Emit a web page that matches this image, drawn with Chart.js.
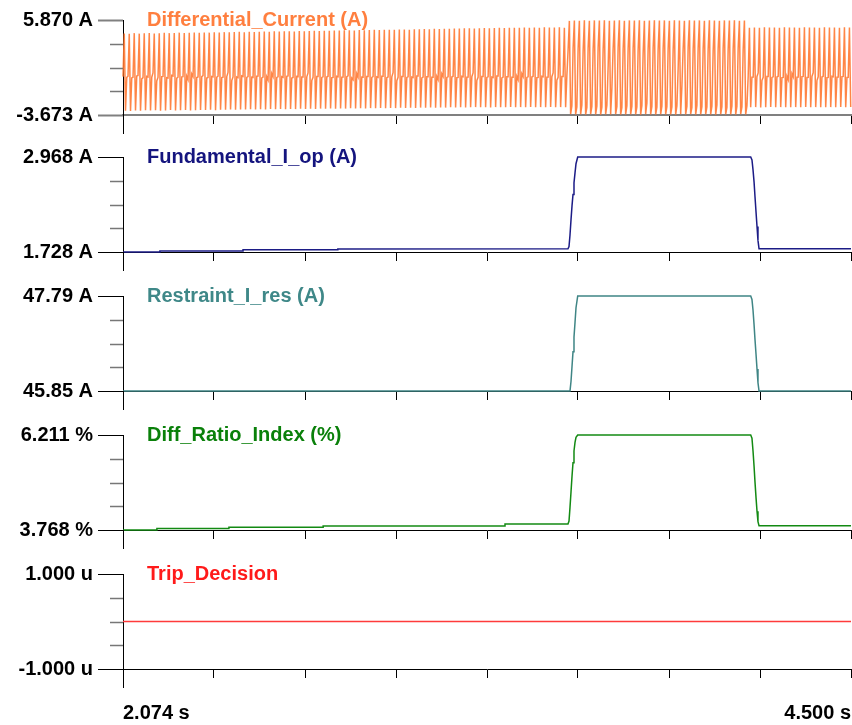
<!DOCTYPE html>
<html>
<head>
<meta charset="utf-8">
<script src="https://cdn.jsdelivr.net/npm/chart.js@4.4.1/dist/chart.umd.min.js"></script>
<style>
  html, body { margin: 0; padding: 0; background: #fff; }
  body { width: 852px; height: 725px; position: relative; overflow: hidden; }
  canvas { position: absolute; left: 0; }
</style>
</head>
<body>
<canvas id="p1" width="852" height="138" style="top:0px"></canvas>
<canvas id="p2" width="852" height="138" style="top:137px"></canvas>
<canvas id="p3" width="852" height="138" style="top:276px"></canvas>
<canvas id="p4" width="852" height="138" style="top:415px"></canvas>
<canvas id="p5" width="852" height="171" style="top:554px"></canvas>
<script>
// ---------------- DATA ----------------
const seriesNames = ["Differential_Current (A)", "Fundamental_I_op (A)", "Restraint_I_res (A)", "Diff_Ratio_Index (%)", "Trip_Decision"];
const timeStart = 2.074;            // s
const timeEnd = 4.500;              // s
const sampleRate = 240;             // samples per second of the differential current record
const xTickValues = [2.074, 2.377, 2.681, 2.984, 3.287, 3.590, 3.894, 4.197, 4.500];
const xTickLabels = ["2.074 s", "4.500 s"];

const diffRange = [-3.673, 5.870];
const iopRange = [1.728, 2.968];
const iresRange = [45.85, 47.79];
const ratioRange = [3.768, 6.211];
const tripRange = [-0.000001, 0.000001];

const diffTickLabels = ["-3.673 A", "5.870 A"];
const iopTickLabels = ["1.728 A", "2.968 A"];
const iresTickLabels = ["45.85 A", "47.79 A"];
const ratioTickLabels = ["3.768 %", "6.211 %"];
const tripTickLabels = ["-1.000 u", "1.000 u"];

// Differential current samples (A)
const diffCurrent = [
0.18,4.52,-3.24,0.10, 0.22,4.49,-3.26,0.05, 0.12,4.55,-3.21,0.25, 0.30,4.50,-3.25,-0.05, 0.08,4.53,-3.20,0.20,
0.15,4.56,-3.23,0.12, 0.55,4.51,-3.19,-0.25, 0.10,4.54,-3.24,0.18, 0.20,4.58,-3.22,0.08, 0.05,4.55,-3.18,0.30,
0.25,4.57,-3.21,0.02, 0.12,4.60,-3.20,0.16, 0.18,4.56,-3.17,0.22, -0.10,4.59,-3.22,0.45, 0.20,4.61,-3.19,0.10,
0.14,4.58,-3.16,0.18, 0.28,4.62,-3.18,0.04, 0.10,4.60,-3.15,0.20, 0.16,4.63,-3.19,0.12, 0.22,4.61,-3.14,0.08,
0.12,4.65,-3.15,0.18, 0.60,4.63,-3.12,-0.20, 0.15,4.66,-3.14,0.14, 0.08,4.68,-3.11,0.25, 0.20,4.64,-3.13,0.10,
0.18,4.69,-3.10,0.12, 0.10,4.67,-3.12,0.22, 0.24,4.70,-3.09,0.06, 0.14,4.72,-3.11,0.16, -0.15,4.69,-3.08,0.50,
0.20,4.73,-3.10,0.10, 0.16,4.71,-3.07,0.18, 0.12,4.74,-3.09,0.22, 0.26,4.75,-3.06,0.04, 0.10,4.72,-3.08,0.20,
0.18,4.76,-3.05,0.14, 0.14,4.74,-3.07,0.16, 0.55,4.77,-3.04,-0.20, 0.12,4.78,-3.06,0.20, 0.20,4.76,-3.03,0.10,
0.16,4.80,-3.05,0.14, 0.22,4.79,-3.02,0.08, 0.10,4.82,-3.04,0.22, 0.18,4.81,-3.01,0.12, 0.14,4.83,-3.03,0.18,
0.26,4.85,-3.00,0.04, -0.12,4.82,-3.02,0.48, 0.16,4.86,-2.99,0.14, 0.12,4.84,-3.01,0.20, 0.20,4.87,-2.98,0.10,
0.18,4.88,-3.00,0.16, 0.10,4.86,-2.97,0.22, 0.22,4.89,-2.99,0.08, 0.14,4.90,-2.96,0.16, 0.58,4.88,-2.98,-0.22,
0.12,4.91,-2.95,0.20, 0.20,4.92,-2.97,0.10, 0.16,4.90,-2.94,0.14, 0.10,4.93,-2.96,0.24, 0.24,4.94,-2.93,0.06,
0.14,4.96,-2.95,0.18, 0.18,4.95,-2.92,0.12, 0.12,4.98,-2.94,0.20, -0.10,4.97,-2.91,0.46, 0.20,4.99,-2.93,0.10,
0.16,5.00,-2.90,0.14, 0.22,5.02,-2.92,0.08, 0.10,5.01,-2.89,0.22, 0.18,5.03,-2.91,0.12, 0.14,5.04,-2.90,0.18,
0.56,5.02,-2.88,-0.20, 0.12,5.05,-2.90,0.20, 0.20,5.06,-2.89,0.10, 0.16,5.04,-2.91,0.14, 0.10,5.07,-2.88,0.24,
0.24,5.08,-2.90,0.06, 0.14,5.06,-2.89,0.18, 0.18,5.09,-2.87,0.12, 0.12,5.10,-2.90,0.20, -0.12,5.08,-2.88,0.48,
0.20,5.11,-2.89,0.10, 0.16,5.09,-2.87,0.14, 0.22,5.12,-2.90,0.08, 0.10,5.10,-2.88,0.22, 0.18,5.13,-2.89,0.12,
0.14,5.11,-2.87,0.18, 0.55,5.12,-2.90,-0.18, 0.12,5.13,-2.88,0.20, 0.20,5.10,-2.89,0.30,
2.90,5.78,-3.58,-2.75, 3.10,5.82,-3.62,-2.85, 3.00,5.80,-3.60,-2.70, 2.80,5.84,-3.63,-2.90, 3.05,5.79,-3.59,-2.80,
2.95,5.83,-3.61,-2.78, 3.10,5.81,-3.64,-2.88, 2.90,5.85,-3.60,-2.72, 1.20,5.80,-3.62,-1.00, 3.00,5.82,-3.59,-2.84,
3.10,5.84,-3.63,-2.90, 2.95,5.79,-3.61,-2.76, 3.00,5.83,-3.60,-2.80, 3.05,5.81,-3.62,-2.86, 2.90,5.85,-3.64,-2.74,
2.60,5.80,-3.59,-2.50, 3.00,5.82,-3.61,-2.82, 3.10,5.84,-3.63,-2.88, 2.95,5.81,-3.60,-2.78, 3.05,5.83,-3.62,-2.84,
3.00,5.79,-3.61,-2.86, 2.90,5.85,-3.64,-2.76, 1.00,5.82,-3.60,-0.80, 3.00,5.80,-3.62,-2.82, 3.10,5.84,-3.59,-2.90,
2.95,5.81,-3.63,-2.74, 3.05,5.83,-3.61,-2.84, 3.00,5.80,-3.60,-2.86, 2.95,5.84,-3.62,-2.80, 2.80,5.82,-3.64,-2.70,
3.00,5.79,-3.60,-2.84, 3.10,5.83,-3.62,-2.90, 2.95,5.81,-3.61,-2.78, 3.00,5.85,-3.63,-2.82, 3.05,5.80,-3.59,-2.86, 2.90,5.82,-3.62,-2.76,
0.20,5.10,-2.90,0.12, 0.14,5.12,-2.88,0.18, 0.55,5.09,-2.91,-0.20, 0.12,5.13,-2.89,0.20, 0.20,5.11,-2.87,0.10,
0.16,5.12,-2.90,0.14, 0.22,5.10,-2.88,0.08, 0.10,5.13,-2.89,0.22, -0.12,5.11,-2.90,0.48, 0.18,5.12,-2.88,0.12,
0.14,5.10,-2.89,0.18, 0.20,5.13,-2.87,0.10, 0.12,5.11,-2.90,0.20, 0.56,5.12,-2.88,-0.22, 0.16,5.10,-2.89,0.14,
0.22,5.13,-2.90,0.08, 0.10,5.11,-2.88,0.22, 0.18,5.12,-2.89,0.12, 0.14,5.10,-2.87,0.18, 0.20,5.13,-2.90,0.10, 0.12,5.11,-2.88
];

// Operating current (A)
const iopTime  = [2.074, 2.197, 2.197, 2.474, 2.474, 2.790, 2.790, 3.5569, 3.5603, 3.5636, 3.5670, 3.5703, 3.5736, 3.5769, 3.5803, 3.5836, 3.5893, 4.1658, 4.1700, 4.1735, 4.1770, 4.1801, 4.1835, 4.1868, 4.1900, 4.1935, 4.500];
const iopValue = [1.729, 1.729, 1.741, 1.741, 1.757, 1.757, 1.768, 1.770, 1.800, 1.950, 2.150, 2.330, 2.480, 2.630, 2.760, 2.880, 2.968, 2.968, 2.930, 2.800, 2.640, 2.450, 2.250, 2.060, 1.880, 1.772, 1.772];

// Restraint current (A)
const iresTime  = [2.074, 3.5636, 3.5670, 3.5703, 3.5736, 3.5769, 3.5803, 3.5836, 3.5893, 4.1658, 4.1700, 4.1735, 4.1770, 4.1801, 4.1835, 4.1868, 4.1900, 4.1935, 4.500];
const iresValue = [45.85, 45.85, 46.05, 46.35, 46.65, 46.95, 47.25, 47.55, 47.79, 47.79, 47.72, 47.50, 47.20, 46.90, 46.60, 46.30, 46.02, 45.85, 45.85];

// Differential ratio index (%)
const ratioTime  = [2.074, 2.187, 2.187, 2.427, 2.427, 2.741, 2.741, 3.347, 3.347, 3.5569, 3.5603, 3.5636, 3.5670, 3.5703, 3.5736, 3.5769, 3.5803, 3.5836, 3.5893, 4.1658, 4.1700, 4.1735, 4.1770, 4.1801, 4.1835, 4.1868, 4.1900, 4.1935, 4.500];
const ratioValue = [3.770, 3.770, 3.805, 3.805, 3.840, 3.840, 3.868, 3.868, 3.920, 3.925, 4.000, 4.350, 4.750, 5.150, 5.500, 5.800, 6.020, 6.150, 6.211, 6.211, 6.130, 5.800, 5.400, 5.000, 4.600, 4.250, 3.980, 3.880, 3.880];

// Trip decision (u)
const tripTime  = [2.074, 2.377, 2.681, 2.984, 3.287, 3.590, 3.894, 4.197, 4.500];
const tripValue = [0, 0, 0, 0, 0, 0, 0, 0, 0];

// ---------------- BUILD ----------------
const FONT = '"Liberation Sans", Arial, Helvetica, sans-serif';
const diffPoints = diffCurrent.map((v, i) => ({ x: timeStart + i / sampleRate, y: v }));
const pairs = (t, v) => t.map((tt, i) => ({ x: tt, y: v[i] }));

const decoPlugin = {
  id: 'deco',
  afterDraw(chart, args, o) {
    const { ctx, chartArea: a, scales } = chart;
    const x = scales.x, y = scales.y;
    ctx.save();
    // minor y ticks
    ctx.strokeStyle = o.minorColor;
    ctx.lineWidth = 1.5;
    y.ticks.forEach((t, i) => {
      if (i > 0 && i < y.ticks.length - 1) {
        const py = Math.round(y.getPixelForValue(t.value)) + 0.5;
        ctx.beginPath(); ctx.moveTo(a.left - 13, py); ctx.lineTo(a.left, py); ctx.stroke();
      }
    });
    // vertical axis continuation below the panel
    ctx.strokeStyle = '#000';
    ctx.lineWidth = 1;
    const px = Math.round(x.getPixelForValue(x.min)) + 0.5;
    ctx.beginPath(); ctx.moveTo(px, a.bottom); ctx.lineTo(px, a.bottom + 19); ctx.stroke();
    // series name
    ctx.font = 'bold 20px ' + FONT;
    ctx.fillStyle = o.color;
    ctx.textBaseline = 'middle';
    ctx.textAlign = 'left';
    ctx.fillText(o.text, a.left + 24, a.top);
    ctx.restore();
  }
};

function makePanel(id, cfg) {
  const [ymin, ymax] = cfg.range;
  const q = (ymax - ymin) / 4;
  const yTicks = [ymin, ymin + q, ymin + 2 * q, ymin + 3 * q, ymax];
  new Chart(document.getElementById(id), {
    type: 'line',
    data: {
      datasets: [{
        data: cfg.points,
        borderColor: cfg.lineColor,
        borderWidth: cfg.lineWidth || 1.5,
        pointRadius: 0,
        tension: 0,
        fill: false,
        clip: 3
      }]
    },
    options: {
      responsive: false,
      animation: false,
      devicePixelRatio: 1,
      parsing: false,
      normalized: true,
      layout: { padding: { top: 20, left: 0, right: 1, bottom: 0 } },
      plugins: {
        legend: { display: false },
        tooltip: { enabled: false },
        deco: { text: cfg.title, color: cfg.titleColor, minorColor: '#777' }
      },
      scales: {
        x: {
          type: 'linear',
          min: timeStart,
          max: timeEnd,
          afterBuildTicks: s => { s.ticks = xTickValues.map(v => ({ value: v })); },
          afterFit: s => { s.height = cfg.last ? 56 : 23; },
          border: { display: true, color: cfg.axisColor, width: cfg.axisWidth },
          grid: { drawOnChartArea: false, drawTicks: true, tickLength: 9, tickColor: '#000', tickWidth: 1 },
          ticks: {
            display: !!cfg.last,
            autoSkip: false,
            maxRotation: 0,
            align: 'inner',
            padding: 0,
            color: '#000',
            font: { family: FONT, size: 20, weight: 'bold', lineHeight: 3.5 },
            callback: (v, i, t) => i === 0 ? xTickLabels[0] : (i === t.length - 1 ? xTickLabels[1] : '')
          }
        },
        y: {
          min: ymin,
          max: ymax,
          afterBuildTicks: s => { s.ticks = yTicks.map(v => ({ value: v })); },
          afterFit: s => { s.width = 123; },
          border: { display: true, color: '#000', width: 1 },
          grid: {
            drawOnChartArea: false,
            drawTicks: true,
            tickLength: 25,
            tickWidth: cfg.axisWidth,
            tickColor: c => (c.index === 0 ? cfg.axisColor : (c.index === 4 ? cfg.axisColor : 'rgba(0,0,0,0)'))
          },
          ticks: {
            autoSkip: false,
            padding: 5,
            color: '#000',
            font: { family: FONT, size: 20, weight: 'bold' },
            callback: (v, i, t) => i === 0 ? cfg.labels[0] : (i === t.length - 1 ? cfg.labels[1] : '')
          }
        }
      }
    },
    plugins: [decoPlugin]
  });
}

makePanel('p1', { range: diffRange, labels: diffTickLabels, points: diffPoints, title: seriesNames[0],
  lineColor: 'rgba(255,120,50,0.9)', titleColor: '#FF7F3F', axisColor: '#808080', axisWidth: 2, lineWidth: 1.5 });
makePanel('p2', { range: iopRange, labels: iopTickLabels, points: pairs(iopTime, iopValue), title: seriesNames[1],
  lineColor: '#1c1c86', titleColor: '#14147e', axisColor: '#000', axisWidth: 1 });
makePanel('p3', { range: iresRange, labels: iresTickLabels, points: pairs(iresTime, iresValue), title: seriesNames[2],
  lineColor: '#3f8585', titleColor: '#3f8888', axisColor: '#000', axisWidth: 1 });
makePanel('p4', { range: ratioRange, labels: ratioTickLabels, points: pairs(ratioTime, ratioValue), title: seriesNames[3],
  lineColor: '#138a13', titleColor: '#0a800a', axisColor: '#000', axisWidth: 1 });
makePanel('p5', { range: tripRange, labels: tripTickLabels, points: pairs(tripTime, tripValue), title: seriesNames[4],
  lineColor: '#ff3b3b', titleColor: '#ff1a1a', axisColor: '#000', axisWidth: 1, last: true });
</script>
</body>
</html>
